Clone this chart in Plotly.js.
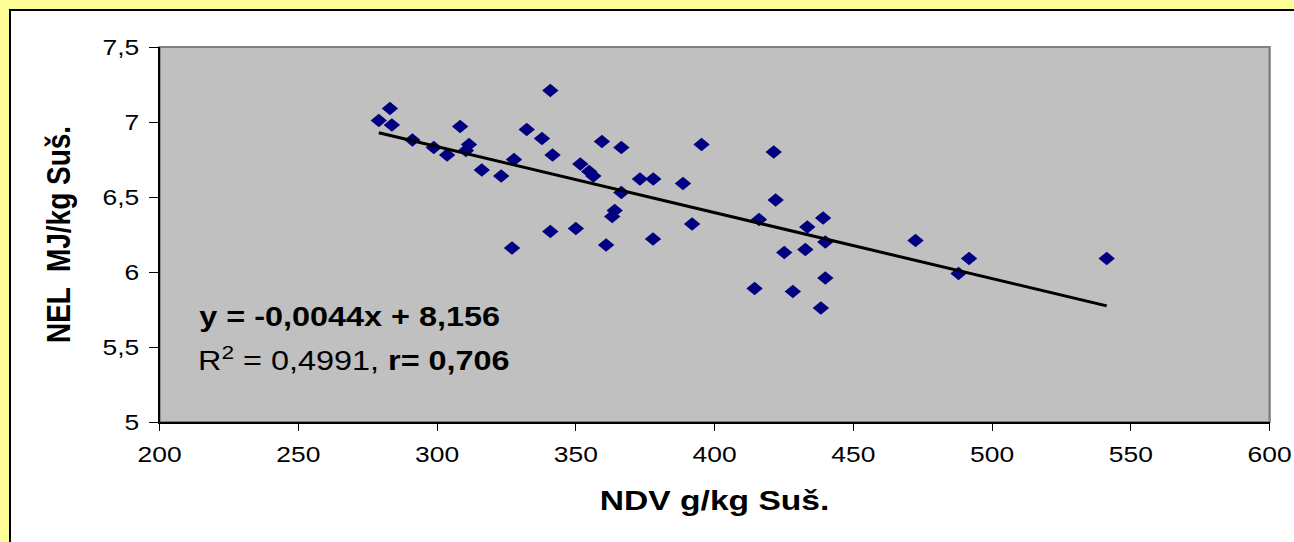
<!DOCTYPE html>
<html>
<head>
<meta charset="utf-8">
<script src="https://cdn.plot.ly/plotly-3.0.1.min.js"></script>
<style>
  html, body { margin: 0; padding: 0; width: 1294px; height: 542px; overflow: hidden; background: #FFFF99; }
  #frame { position: absolute; left: 9px; top: 9px; width: 1300px; height: 600px; background: #FFFFFF; border: 2px solid #000000; }
  #wrap { position: absolute; left: 0; top: 0; width: 1079px; height: 542px; transform: scaleX(1.2); transform-origin: 0 0; }
  #chart { width: 1079px; height: 542px; }
</style>
</head>
<body>
<div id="frame"></div>
<div id="wrap"><div id="chart"></div></div>
<script>
// NDV (g/kg dry matter) against NEL (MJ/kg dry matter)
const ndv = [279.0, 283.0, 283.7, 291.1, 298.8, 303.6, 308.3, 311.5, 310.4, 316.1,
             323.1, 327.7, 327.0, 332.3, 337.8, 340.8, 341.6, 340.8, 350.0, 351.6,
             354.8, 356.3, 359.4, 360.9, 363.1, 364.0, 366.4, 366.4, 373.1, 377.9,
             377.8, 388.6, 391.9, 395.3, 414.4, 416.0, 421.3, 422.0, 425.1, 428.2,
             432.7, 433.4, 438.3, 439.1, 439.9, 439.9, 472.4, 487.9, 491.7, 541.3];
const nel = [7.01, 7.09, 6.98, 6.88, 6.83, 6.78, 6.97, 6.85, 6.81, 6.68,
             6.64, 6.75, 6.16, 6.95, 6.89, 7.21, 6.78, 6.27, 6.29, 6.72,
             6.67, 6.64, 6.87, 6.18, 6.37, 6.41, 6.83, 6.53, 6.62, 6.62,
             6.22, 6.59, 6.32, 6.85, 5.89, 6.35, 6.80, 6.48, 6.13, 5.87,
             6.15, 6.30, 5.76, 6.36, 6.20, 5.96, 6.21, 5.99, 6.09, 6.09];

// Linear regression shown on the chart
const slope = -0.0044;
const intercept = 8.156;

const xTicks = [200, 250, 300, 350, 400, 450, 500, 550, 600];
const yTicks = [5, 5.5, 6, 6.5, 7, 7.5];
const yTickText = ['5', '5,5', '6', '6,5', '7', '7,5'];

const xMin = Math.min(...ndv);
const xMax = Math.max(...ndv);
const trendX = [xMin, xMax];
const trendY = trendX.map(v => slope * v + intercept);

const font = 'Liberation Sans, Arial, sans-serif';

const traces = [
  {
    x: ndv, y: nel, type: 'scatter', mode: 'markers',
    marker: { symbol: 'diamond', size: 10.5, color: '#000080' },
    hoverinfo: 'x+y', showlegend: false
  },
  {
    x: trendX, y: trendY, type: 'scatter', mode: 'lines',
    line: { color: '#000000', width: 3 },
    hoverinfo: 'skip', showlegend: false
  }
];

const layout = {
  width: 1079, height: 542,
  margin: { l: 133, r: 21, t: 47, b: 120 },
  paper_bgcolor: 'rgba(0,0,0,0)',
  plot_bgcolor: '#C0C0C0',
  separators: ', ',
  font: { family: font, color: '#000000' },
  xaxis: {
    range: [200, 600], tickvals: xTicks, ticktext: xTicks.map(String),
    showgrid: false, zeroline: false,
    showline: true, linecolor: '#000000', linewidth: 1.5,
    ticks: 'outside', ticklen: 7, tickwidth: 1, tickcolor: '#000000',
    tickfont: { family: font, size: 22, color: '#000000' },
    ticklabelstandoff: 5,
    title: { text: '<b>NDV g/kg Suš.</b>', font: { family: font, size: 28, color: '#000000' }, standoff: 24 }
  },
  yaxis: {
    range: [5, 7.5], tickvals: yTicks, ticktext: yTickText,
    showgrid: false, zeroline: false,
    showline: true, linecolor: '#000000', linewidth: 1.5,
    ticks: 'outside', ticklen: 7, tickwidth: 1, tickcolor: '#000000',
    tickfont: { family: font, size: 22, color: '#000000' },
    ticklabelstandoff: 4,
    title: { text: '<b>NEL  MJ/kg Suš.</b>', font: { family: font, size: 28, color: '#000000' }, standoff: 18 }
  },
  shapes: [
    { type: 'rect', xref: 'paper', yref: 'paper', x0: 0, x1: 1, y0: 0, y1: 1,
      line: { color: '#808080', width: 2 }, layer: 'below' }
  ],
  annotations: [
    { x: 213.5, y: 5.70, xref: 'x', yref: 'y', xanchor: 'left', yanchor: 'middle',
      text: '<b>y = -0,0044x + 8,156</b>', showarrow: false,
      font: { family: font, size: 27, color: '#000000' } },
    { x: 213, y: 5.42, xref: 'x', yref: 'y', xanchor: 'left', yanchor: 'middle',
      text: 'R<sup>2</sup> = 0,4991, <b>r= 0,706</b>', showarrow: false,
      font: { family: font, size: 27, color: '#000000' } }
  ]
};

Plotly.newPlot('chart', traces, layout, { staticPlot: true, displayModeBar: false });
</script>
</body>
</html>
